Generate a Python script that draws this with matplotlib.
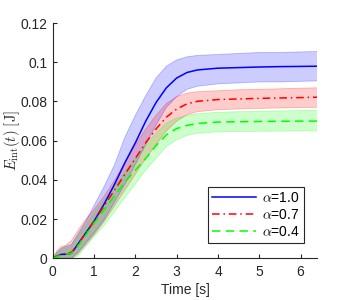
import numpy as np
import matplotlib.pyplot as plt

plt.rcParams['font.family'] = ['Liberation Sans', 'DejaVu Sans']
plt.rcParams['mathtext.fontset'] = 'cm'

# time samples [s]
t = [0, 0.1, 0.2, 0.3, 0.45, 0.6, 0.8, 1.0, 1.25, 1.5, 1.75, 2.0, 2.25, 2.5,
     2.75, 3.0, 3.25, 3.5, 4.0, 4.5, 5.0, 5.5, 6.0, 6.4]

# alpha = 1.0
e10_mean = [0, 0.001, 0.002, 0.002, 0.0025, 0.007, 0.013, 0.019, 0.028, 0.038, 0.049, 0.059,
            0.070, 0.0795, 0.087, 0.092, 0.0948, 0.0961, 0.097, 0.0973, 0.0976, 0.0978, 0.0979, 0.098]
e10_upper = [0, 0.003, 0.005, 0.006, 0.007, 0.012, 0.019, 0.027, 0.037, 0.048, 0.062, 0.073,
             0.083, 0.092, 0.098, 0.1012, 0.1028, 0.1035, 0.104, 0.1045, 0.105, 0.105, 0.1053, 0.1055]
e10_lower = [0, 0, 0, 0, 0, 0.003, 0.008, 0.013, 0.020, 0.029, 0.038, 0.048,
             0.058, 0.068, 0.077, 0.0825, 0.0862, 0.0878, 0.089, 0.0895, 0.09, 0.09, 0.0903, 0.0905]

# alpha = 0.7
e07_mean = [0, 0.001, 0.002, 0.0025, 0.003, 0.007, 0.013, 0.019, 0.027, 0.035, 0.043, 0.051,
            0.059, 0.066, 0.072, 0.0762, 0.0788, 0.0801, 0.081, 0.0813, 0.0816, 0.0818, 0.082, 0.0822]
e07_upper = [0, 0.004, 0.006, 0.0065, 0.009, 0.014, 0.020, 0.025, 0.032, 0.040, 0.049, 0.058,
             0.066, 0.073, 0.079, 0.0825, 0.0843, 0.085, 0.0855, 0.086, 0.0862, 0.0865, 0.0868, 0.087]
e07_lower = [0, 0, 0, 0, 0, 0.002, 0.007, 0.012, 0.019, 0.027, 0.035, 0.043,
             0.051, 0.058, 0.065, 0.070, 0.0732, 0.0748, 0.0758, 0.0762, 0.0765, 0.0767, 0.0769, 0.077]

# alpha = 0.4
e04_mean = [0, 0.0008, 0.0015, 0.002, 0.0025, 0.006, 0.012, 0.018, 0.025, 0.032, 0.039, 0.045,
            0.051, 0.0575, 0.063, 0.0662, 0.0678, 0.0688, 0.0695, 0.0697, 0.0698, 0.0699, 0.07, 0.07]
e04_upper = [0, 0.003, 0.004, 0.005, 0.006, 0.011, 0.017, 0.023, 0.030, 0.037, 0.044, 0.051,
             0.058, 0.064, 0.069, 0.0717, 0.0729, 0.0738, 0.0745, 0.0748, 0.075, 0.0752, 0.0754, 0.0755]
e04_lower = [0, 0, 0, 0, 0, 0.001, 0.006, 0.011, 0.017, 0.024, 0.031, 0.038,
             0.045, 0.051, 0.057, 0.0605, 0.0627, 0.0638, 0.0645, 0.0647, 0.0648, 0.0649, 0.065, 0.065]

labels = [r'$\alpha$=1.0', r'$\alpha$=0.7', r'$\alpha$=0.4']
colors = ['#0000ff', '#ff0000', '#00ff00']
styles = ['-', (0, (5, 2.5, 1, 2.5)), (0, (5.5, 3.5))]

series = [(e10_mean, e10_lower, e10_upper),
          (e07_mean, e07_lower, e07_upper),
          (e04_mean, e04_lower, e04_upper)]

axcol = '#262626'

fig = plt.figure(figsize=(3.5, 3.0), dpi=100)
ax = fig.add_axes([0.151, 0.139, 0.755, 0.784])

for (m, lo, hi), c in zip(series, colors):
    ax.fill_between(t, lo, hi, facecolor=c, alpha=0.2, edgecolor='none')
    ax.plot(t, lo, color=c, alpha=0.25, lw=0.6)
    ax.plot(t, hi, color=c, alpha=0.25, lw=0.6)

for (m, lo, hi), c, ls, lab in zip(series, colors, styles, labels):
    ax.plot(t, m, color=c, linestyle=ls, lw=1.1, label=lab)

ax.set_xlim(0, 6.4)
ax.set_ylim(0, 0.12)
ax.set_xticks([0, 1, 2, 3, 4, 5, 6])
ax.set_yticks([0, 0.02, 0.04, 0.06, 0.08, 0.1, 0.12])
ax.set_yticklabels(['0', '0.02', '0.04', '0.06', '0.08', '0.1', '0.12'])

for s in ['top', 'right']:
    ax.spines[s].set_visible(False)
for s in ['left', 'bottom']:
    ax.spines[s].set_color(axcol)
    ax.spines[s].set_linewidth(0.8)
ax.tick_params(direction='in', length=3, width=0.8, color=axcol, labelcolor=axcol,
               labelsize=10)
ax.tick_params(axis='x', pad=5)
ax.tick_params(axis='y', pad=4)

ax.set_xlabel('Time [s]', fontsize=10, color=axcol, labelpad=3)
ax.set_ylabel(r'$E_{\rm int}(t)\ [{\rm J}]$', fontsize=10.5, color=axcol)
ax.yaxis.set_label_coords(-0.118, 0.5)

leg = ax.legend(loc='lower right', bbox_to_anchor=(0.95, 0.065), fontsize=10,
                fancybox=False, framealpha=1, edgecolor=axcol, handlelength=3.2,
                borderpad=0.3, labelspacing=0.2, handletextpad=0.4, borderaxespad=0)
leg.get_frame().set_linewidth(0.8)

fig.savefig('out.png', dpi=100)
